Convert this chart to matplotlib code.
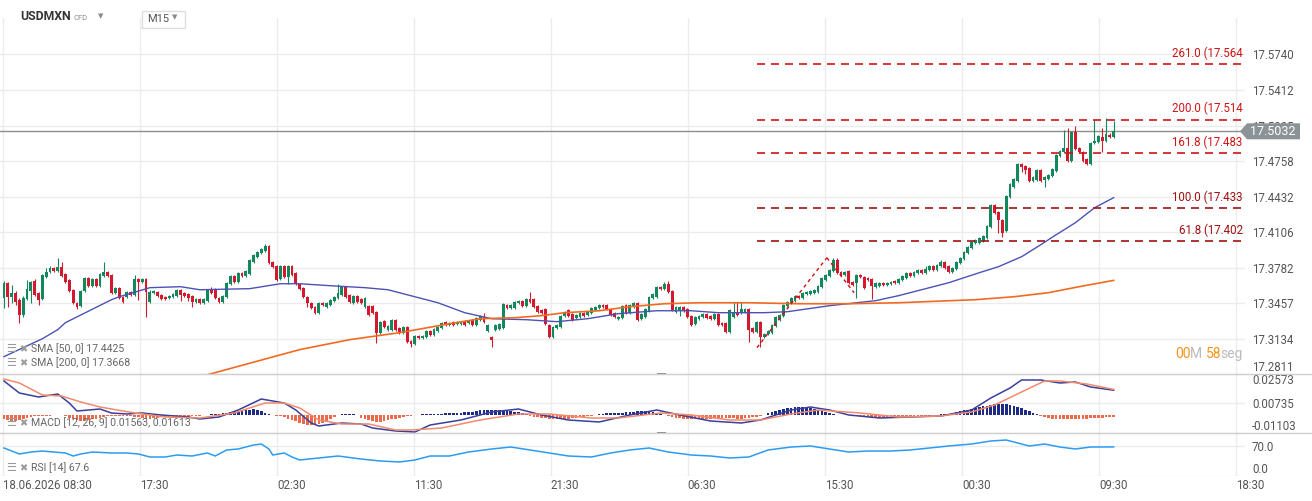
import numpy as np
import matplotlib
matplotlib.use('Agg')
import matplotlib.pyplot as plt
from matplotlib.patches import Polygon, Rectangle
from matplotlib.lines import Line2D

plt.rcParams['font.family'] = ['Roboto', 'DejaVu Sans']

W, H = 1312, 501

# ---------------- USDMXN M15 candles ----------------
opens = [
    17.3509, 17.3646, 17.3518, 17.3555, 17.3491, 17.3354, 17.3500, 17.3573, 17.3665, 17.3555,
    17.3500, 17.3701, 17.3747, 17.3784, 17.3756, 17.3793, 17.3729, 17.3674, 17.3582, 17.3463,
    17.3436, 17.3573, 17.3692, 17.3619, 17.3683, 17.3619, 17.3710, 17.3747, 17.3720, 17.3555,
    17.3601, 17.3518, 17.3518, 17.3564, 17.3537, 17.3683, 17.3656, 17.3683, 17.3473, 17.3555,
    17.3564, 17.3537, 17.3518, 17.3509, 17.3518, 17.3528, 17.3582, 17.3555, 17.3546, 17.3528,
    17.3473, 17.3500, 17.3463, 17.3482, 17.3582, 17.3582, 17.3509, 17.3473, 17.3518, 17.3637,
    17.3710, 17.3656, 17.3738, 17.3710, 17.3729, 17.3838, 17.3884, 17.3921, 17.3939, 17.3985,
    17.3838, 17.3802, 17.3683, 17.3802, 17.3701, 17.3802, 17.3738, 17.3637, 17.3601, 17.3518,
    17.3463, 17.3427, 17.3372, 17.3463, 17.3427, 17.3445, 17.3482, 17.3509, 17.3537, 17.3610,
    17.3537, 17.3463, 17.3528, 17.3500, 17.3427, 17.3436, 17.3436, 17.3381, 17.3189, 17.3299,
    17.3217, 17.3217, 17.3308, 17.3235, 17.3189, 17.3244, 17.3116, 17.3088, 17.3162, 17.3143,
    17.3153, 17.3207, 17.3171, 17.3207, 17.3235, 17.3290, 17.3262, 17.3290, 17.3271, 17.3271,
    17.3299, 17.3281, 17.3308, 17.3262, 17.3308, 17.3335, 17.3207, 17.3153, 17.3217, 17.3226,
    17.3235, 17.3445, 17.3418, 17.3418, 17.3463, 17.3482, 17.3436, 17.3500, 17.3500, 17.3436,
    17.3399, 17.3409, 17.3262, 17.3153, 17.3235, 17.3244, 17.3345, 17.3399, 17.3363, 17.3326,
    17.3335, 17.3372, 17.3354, 17.3372, 17.3399, 17.3418, 17.3445, 17.3445, 17.3409, 17.3372,
    17.3317, 17.3326, 17.3445, 17.3372, 17.3427, 17.3463, 17.3317, 17.3335, 17.3390, 17.3509,
    17.3518, 17.3610, 17.3592, 17.3637, 17.3573, 17.3381, 17.3390, 17.3427, 17.3409, 17.3345,
    17.3271, 17.3317, 17.3335, 17.3363, 17.3345, 17.3317, 17.3363, 17.3281, 17.3281, 17.3198,
    17.3335, 17.3381, 17.3372, 17.3381, 17.3409, 17.3235, 17.3198, 17.3290, 17.3153, 17.3180,
    17.3189, 17.3253, 17.3308, 17.3345, 17.3436, 17.3463, 17.3482, 17.3528, 17.3509, 17.3546,
    17.3546, 17.3555, 17.3564, 17.3610, 17.3674, 17.3710, 17.3756, 17.3857, 17.3747, 17.3720,
    17.3756, 17.3656, 17.3646, 17.3720, 17.3701, 17.3692, 17.3683, 17.3610, 17.3619, 17.3646,
    17.3628, 17.3637, 17.3665, 17.3646, 17.3674, 17.3692, 17.3738, 17.3710, 17.3738, 17.3765,
    17.3738, 17.3765, 17.3802, 17.3765, 17.3802, 17.3838, 17.3802, 17.3747, 17.3774, 17.3829,
    17.3866, 17.3921, 17.3966, 17.4012, 17.4012, 17.4030, 17.4058, 17.4158, 17.4360, 17.4296,
    17.4222, 17.4122, 17.4433, 17.4524, 17.4579, 17.4734, 17.4716, 17.4698, 17.4579, 17.4588,
    17.4680, 17.4588, 17.4597, 17.4625, 17.4670, 17.4808, 17.4844, 17.4881, 17.4762, 17.5027,
    17.4881, 17.4844, 17.4780, 17.4734, 17.4926, 17.4936, 17.4981, 17.4945, 17.5000, 17.4981,
]
highs = [
    17.3665, 17.3656, 17.3628, 17.3573, 17.3509, 17.3528, 17.3674, 17.3665, 17.3683, 17.3564,
    17.3729, 17.3784, 17.3802, 17.3793, 17.3875, 17.3838, 17.3738, 17.3683, 17.3592, 17.3473,
    17.3582, 17.3701, 17.3701, 17.3692, 17.3692, 17.3738, 17.3838, 17.3756, 17.3729, 17.3610,
    17.3610, 17.3528, 17.3573, 17.3573, 17.3720, 17.3692, 17.3692, 17.3692, 17.3582, 17.3582,
    17.3573, 17.3546, 17.3528, 17.3537, 17.3555, 17.3592, 17.3592, 17.3564, 17.3555, 17.3537,
    17.3509, 17.3509, 17.3509, 17.3592, 17.3610, 17.3601, 17.3518, 17.3537, 17.3656, 17.3720,
    17.3720, 17.3747, 17.3747, 17.3765, 17.3866, 17.3912, 17.3939, 17.3966, 17.4003, 17.3994,
    17.3848, 17.3811, 17.3811, 17.3811, 17.3811, 17.3811, 17.3747, 17.3646, 17.3610, 17.3528,
    17.3473, 17.3436, 17.3473, 17.3473, 17.3473, 17.3500, 17.3528, 17.3637, 17.3619, 17.3619,
    17.3546, 17.3537, 17.3537, 17.3509, 17.3518, 17.3445, 17.3445, 17.3390, 17.3299, 17.3308,
    17.3262, 17.3317, 17.3317, 17.3244, 17.3253, 17.3253, 17.3125, 17.3171, 17.3171, 17.3171,
    17.3217, 17.3217, 17.3235, 17.3253, 17.3290, 17.3299, 17.3290, 17.3299, 17.3299, 17.3299,
    17.3308, 17.3308, 17.3317, 17.3335, 17.3354, 17.3372, 17.3271, 17.3162, 17.3271, 17.3281,
    17.3463, 17.3454, 17.3454, 17.3482, 17.3491, 17.3491, 17.3509, 17.3564, 17.3509, 17.3445,
    17.3409, 17.3418, 17.3271, 17.3253, 17.3271, 17.3354, 17.3390, 17.3409, 17.3372, 17.3363,
    17.3381, 17.3381, 17.3390, 17.3427, 17.3436, 17.3454, 17.3454, 17.3454, 17.3418, 17.3381,
    17.3345, 17.3445, 17.3454, 17.3454, 17.3473, 17.3473, 17.3372, 17.3418, 17.3528, 17.3555,
    17.3619, 17.3619, 17.3656, 17.3665, 17.3582, 17.3436, 17.3436, 17.3436, 17.3418, 17.3354,
    17.3345, 17.3354, 17.3372, 17.3372, 17.3354, 17.3372, 17.3372, 17.3290, 17.3290, 17.3409,
    17.3473, 17.3473, 17.3473, 17.3418, 17.3418, 17.3244, 17.3299, 17.3299, 17.3189, 17.3217,
    17.3271, 17.3345, 17.3363, 17.3454, 17.3482, 17.3518, 17.3537, 17.3537, 17.3564, 17.3573,
    17.3582, 17.3592, 17.3628, 17.3701, 17.3729, 17.3774, 17.3875, 17.3875, 17.3756, 17.3756,
    17.3765, 17.3665, 17.3729, 17.3729, 17.3710, 17.3701, 17.3692, 17.3656, 17.3656, 17.3656,
    17.3656, 17.3665, 17.3674, 17.3692, 17.3720, 17.3747, 17.3747, 17.3756, 17.3774, 17.3774,
    17.3802, 17.3811, 17.3811, 17.3820, 17.3857, 17.3848, 17.3811, 17.3793, 17.3848, 17.3884,
    17.3939, 17.3985, 17.4030, 17.4049, 17.4067, 17.4085, 17.4177, 17.4369, 17.4369, 17.4305,
    17.4231, 17.4451, 17.4561, 17.4606, 17.4744, 17.4744, 17.4725, 17.4707, 17.4625, 17.4689,
    17.4689, 17.4625, 17.4643, 17.4698, 17.4826, 17.4862, 17.5045, 17.5064, 17.5036, 17.5082,
    17.4890, 17.4853, 17.4789, 17.4936, 17.5137, 17.5000, 17.5064, 17.5155, 17.5018, 17.5128,
]
lows = [
    17.3418, 17.3427, 17.3463, 17.3445, 17.3281, 17.3335, 17.3491, 17.3463, 17.3528, 17.3445,
    17.3491, 17.3692, 17.3738, 17.3747, 17.3747, 17.3701, 17.3646, 17.3564, 17.3454, 17.3409,
    17.3427, 17.3564, 17.3610, 17.3610, 17.3610, 17.3610, 17.3701, 17.3701, 17.3546, 17.3546,
    17.3500, 17.3463, 17.3509, 17.3528, 17.3528, 17.3491, 17.3646, 17.3335, 17.3463, 17.3546,
    17.3518, 17.3491, 17.3491, 17.3500, 17.3509, 17.3518, 17.3482, 17.3518, 17.3482, 17.3427,
    17.3463, 17.3454, 17.3454, 17.3473, 17.3546, 17.3500, 17.3463, 17.3463, 17.3509, 17.3628,
    17.3646, 17.3646, 17.3701, 17.3701, 17.3720, 17.3829, 17.3875, 17.3912, 17.3930, 17.3820,
    17.3784, 17.3665, 17.3674, 17.3692, 17.3637, 17.3710, 17.3628, 17.3582, 17.3509, 17.3427,
    17.3409, 17.3363, 17.3363, 17.3436, 17.3418, 17.3436, 17.3473, 17.3500, 17.3528, 17.3509,
    17.3463, 17.3454, 17.3463, 17.3454, 17.3418, 17.3345, 17.3363, 17.3098, 17.3180, 17.3235,
    17.3207, 17.3207, 17.3207, 17.3180, 17.3180, 17.3098, 17.3061, 17.3079, 17.3134, 17.3134,
    17.3143, 17.3162, 17.3162, 17.3198, 17.3226, 17.3253, 17.3253, 17.3253, 17.3262, 17.3262,
    17.3253, 17.3271, 17.3253, 17.3253, 17.3299, 17.3281, 17.3198, 17.3061, 17.3207, 17.3217,
    17.3226, 17.3409, 17.3409, 17.3409, 17.3454, 17.3427, 17.3427, 17.3463, 17.3418, 17.3372,
    17.3363, 17.3262, 17.3143, 17.3143, 17.3226, 17.3235, 17.3335, 17.3335, 17.3299, 17.3317,
    17.3326, 17.3335, 17.3345, 17.3363, 17.3390, 17.3409, 17.3418, 17.3399, 17.3345, 17.3326,
    17.3308, 17.3317, 17.3363, 17.3363, 17.3418, 17.3299, 17.3308, 17.3326, 17.3381, 17.3500,
    17.3509, 17.3582, 17.3582, 17.3555, 17.3390, 17.3372, 17.3345, 17.3381, 17.3326, 17.3253,
    17.3262, 17.3308, 17.3326, 17.3317, 17.3308, 17.3308, 17.3253, 17.3253, 17.3189, 17.3189,
    17.3326, 17.3345, 17.3363, 17.3372, 17.3107, 17.3189, 17.3189, 17.3061, 17.3143, 17.3171,
    17.3180, 17.3244, 17.3299, 17.3335, 17.3427, 17.3454, 17.3473, 17.3500, 17.3500, 17.3537,
    17.3537, 17.3546, 17.3555, 17.3601, 17.3665, 17.3701, 17.3747, 17.3729, 17.3710, 17.3710,
    17.3637, 17.3619, 17.3509, 17.3692, 17.3592, 17.3665, 17.3500, 17.3601, 17.3610, 17.3619,
    17.3619, 17.3628, 17.3637, 17.3637, 17.3665, 17.3683, 17.3701, 17.3701, 17.3729, 17.3729,
    17.3729, 17.3756, 17.3756, 17.3756, 17.3793, 17.3774, 17.3738, 17.3738, 17.3765, 17.3820,
    17.3857, 17.3912, 17.3957, 17.4003, 17.4003, 17.4021, 17.4049, 17.4149, 17.4277, 17.4103,
    17.4067, 17.4113, 17.4424, 17.4515, 17.4570, 17.4661, 17.4643, 17.4570, 17.4570, 17.4579,
    17.4570, 17.4524, 17.4588, 17.4616, 17.4661, 17.4798, 17.4835, 17.4753, 17.4753, 17.4862,
    17.4835, 17.4753, 17.4725, 17.4725, 17.4917, 17.4926, 17.4844, 17.4936, 17.4972, 17.4972,
]
closes = [
    17.3646, 17.3518, 17.3555, 17.3473, 17.3354, 17.3509, 17.3592, 17.3656, 17.3537, 17.3491,
    17.3720, 17.3747, 17.3784, 17.3756, 17.3793, 17.3710, 17.3656, 17.3573, 17.3463, 17.3427,
    17.3573, 17.3692, 17.3619, 17.3683, 17.3619, 17.3729, 17.3747, 17.3710, 17.3555, 17.3601,
    17.3509, 17.3473, 17.3564, 17.3537, 17.3683, 17.3656, 17.3683, 17.3564, 17.3564, 17.3573,
    17.3528, 17.3500, 17.3500, 17.3528, 17.3546, 17.3582, 17.3537, 17.3528, 17.3509, 17.3473,
    17.3500, 17.3463, 17.3500, 17.3582, 17.3555, 17.3509, 17.3473, 17.3528, 17.3646, 17.3710,
    17.3656, 17.3738, 17.3710, 17.3756, 17.3857, 17.3902, 17.3930, 17.3957, 17.3985, 17.3829,
    17.3793, 17.3674, 17.3802, 17.3701, 17.3802, 17.3720, 17.3637, 17.3592, 17.3518, 17.3463,
    17.3418, 17.3372, 17.3463, 17.3445, 17.3463, 17.3491, 17.3518, 17.3555, 17.3610, 17.3518,
    17.3473, 17.3528, 17.3473, 17.3463, 17.3509, 17.3354, 17.3372, 17.3189, 17.3290, 17.3244,
    17.3253, 17.3308, 17.3217, 17.3189, 17.3244, 17.3107, 17.3088, 17.3162, 17.3143, 17.3162,
    17.3207, 17.3171, 17.3226, 17.3244, 17.3281, 17.3262, 17.3281, 17.3262, 17.3290, 17.3290,
    17.3262, 17.3299, 17.3262, 17.3326, 17.3345, 17.3290, 17.3262, 17.3125, 17.3262, 17.3271,
    17.3454, 17.3418, 17.3445, 17.3473, 17.3482, 17.3436, 17.3500, 17.3473, 17.3427, 17.3381,
    17.3372, 17.3271, 17.3153, 17.3244, 17.3262, 17.3345, 17.3381, 17.3345, 17.3308, 17.3354,
    17.3372, 17.3345, 17.3381, 17.3418, 17.3427, 17.3445, 17.3427, 17.3409, 17.3354, 17.3335,
    17.3335, 17.3436, 17.3372, 17.3445, 17.3463, 17.3308, 17.3363, 17.3409, 17.3518, 17.3546,
    17.3610, 17.3592, 17.3637, 17.3564, 17.3399, 17.3427, 17.3427, 17.3390, 17.3335, 17.3262,
    17.3335, 17.3345, 17.3363, 17.3326, 17.3317, 17.3363, 17.3262, 17.3262, 17.3198, 17.3399,
    17.3372, 17.3354, 17.3409, 17.3409, 17.3217, 17.3198, 17.3290, 17.3153, 17.3180, 17.3207,
    17.3262, 17.3335, 17.3354, 17.3445, 17.3473, 17.3509, 17.3528, 17.3509, 17.3555, 17.3564,
    17.3573, 17.3582, 17.3619, 17.3692, 17.3720, 17.3765, 17.3857, 17.3738, 17.3720, 17.3747,
    17.3646, 17.3628, 17.3720, 17.3701, 17.3601, 17.3674, 17.3619, 17.3646, 17.3646, 17.3628,
    17.3646, 17.3656, 17.3646, 17.3683, 17.3710, 17.3738, 17.3710, 17.3747, 17.3765, 17.3738,
    17.3774, 17.3802, 17.3765, 17.3811, 17.3838, 17.3784, 17.3747, 17.3784, 17.3838, 17.3875,
    17.3930, 17.3976, 17.4021, 17.4039, 17.4058, 17.4076, 17.4167, 17.4360, 17.4286, 17.4222,
    17.4103, 17.4442, 17.4552, 17.4597, 17.4734, 17.4707, 17.4680, 17.4579, 17.4616, 17.4680,
    17.4579, 17.4616, 17.4634, 17.4689, 17.4817, 17.4853, 17.4881, 17.4762, 17.5027, 17.4872,
    17.4844, 17.4762, 17.4734, 17.4926, 17.4945, 17.4990, 17.4945, 17.5009, 17.4981, 17.5032,
]

# ---------------- moving averages (sampled at candle index) ----------------
sma50_idx = [0, 10, 14, 16, 28, 30, 38, 46, 51, 64, 72, 77, 85, 94, 100, 107, 113, 120, 127,
             136, 144, 152, 160, 170, 179, 186, 198, 204, 215, 227, 233, 246, 254, 259, 265,
             270, 274, 279, 284, 289]
sma50_val = [17.2970, 17.3134, 17.3217, 17.3281, 17.3491, 17.3518, 17.3601, 17.3610, 17.3582,
             17.3592, 17.3637, 17.3637, 17.3619, 17.3601, 17.3582, 17.3518, 17.3463, 17.3372,
             17.3317, 17.3308, 17.3290, 17.3317, 17.3363, 17.3390, 17.3390, 17.3372, 17.3372,
             17.3381, 17.3436, 17.3482, 17.3528, 17.3646, 17.3738, 17.3793, 17.3884, 17.3994,
             17.4085, 17.4195, 17.4332, 17.4425]

sma200_idx = [45, 54, 77, 90, 103, 116, 124, 133, 140, 146, 155, 163, 172, 181, 194, 207,
              220, 233, 253, 263, 272, 280, 289]
sma200_val = [17.2728, 17.2814, 17.3034, 17.3125, 17.3189, 17.3271, 17.3317, 17.3326, 17.3345,
              17.3372, 17.3390, 17.3427, 17.3454, 17.3463, 17.3463, 17.3454, 17.3454, 17.3463,
              17.3491, 17.3518, 17.3555, 17.3610, 17.3668]

# ---------------- fibonacci extension ----------------
fib_anchor_idx = [196.1, 214.3, 221.4]
fib_anchor_val = [17.3052, 17.3875, 17.3555]
fib_levels = [261.0, 200.0, 161.8, 100.0, 61.8]
fib_prices = [17.5646, 17.5140, 17.4830, 17.4330, 17.4028]
# labels as they show, cut off at the plot edge
fib_texts = ['261.0 (17.564', '200.0 (17.514', '161.8 (17.483', '100.0 (17.433', '61.8 (17.402']

# ---------------- MACD [12, 26, 9] ----------------
macd_idx = [0, 4, 9, 14, 17, 19, 25, 28, 32, 36, 41, 48, 51, 56, 61, 67, 73, 76, 80, 82, 88,
            93, 96, 102, 107, 111, 119, 127, 134, 140, 147, 155, 163, 170, 176, 184, 192,
            197, 205, 210, 215, 220, 228, 236, 244, 252, 257, 262, 265, 270, 275, 279, 283, 289]
macd_val = [0.02137, 0.01389, 0.01140, 0.01327, 0.00766, 0.00268, 0.00392, 0.00143, 0.00081,
            0.00143, 0.00019, -0.00106, -0.00231, -0.00106, 0.00330, 0.01015, 0.00766, 0.00330,
            -0.00480, -0.00667, -0.00480, -0.00542, -0.00792, -0.00978, -0.01041, -0.00604,
            -0.00293, 0.00206, 0.00392, 0.00019, -0.00293, -0.00417, 0.00019, 0.00330, 0.00019,
            -0.00355, -0.00480, -0.00293, 0.00330, 0.00517, 0.00330, 0.00019, -0.00168,
            -0.00106, -0.00044, 0.00330, 0.01077, 0.01700, 0.02199, 0.02199, 0.02012, 0.02075,
            0.01763, 0.01563]
signal_idx = [0, 4, 10, 15, 20, 25, 34, 42, 51, 60, 68, 73, 77, 82, 88, 95, 102, 106, 114,
              124, 134, 142, 153, 160, 171, 179, 189, 197, 205, 212, 223, 233, 244, 252, 258,
              265, 271, 275, 282, 289]
signal_val = [0.02261, 0.02012, 0.01265, 0.01202, 0.00829, 0.00517, 0.00143, -0.00106,
              -0.00168, 0.00143, 0.00766, 0.00766, 0.00455, -0.00293, -0.00542, -0.00542,
              -0.00916, -0.00916, -0.00792, -0.00293, 0.00081, 0.00081, -0.00168, -0.00168,
              0.00143, 0.00019, -0.00293, -0.00293, 0.00081, 0.00330, 0.00143, -0.00106,
              -0.00044, 0.00206, 0.00642, 0.01452, 0.02137, 0.02137, 0.01950, 0.01613]
macd_hist = [
    -0.0025, -0.003, -0.0035, -0.0035, -0.003, -0.0025, -0.0015, -0.0008,
    -0.0003, -0.0003, -0.0002, -0.0002, -0.0002,
    0.0003, 0.0003, 0.0003,
    -0.0005,
    -0.0015, -0.0025, -0.003, -0.0033, -0.0033, -0.003, -0.0025, -0.002, -0.0015, -0.001,
    -0.0005, -0.0004, -0.0003, -0.0003, -0.0003, -0.0004, -0.0006, -0.0008,
    -0.001, -0.0015, -0.002, -0.002, -0.0018, -0.0015, -0.0012, -0.001, -0.0008, -0.0008,
    -0.0008, -0.001, -0.001, -0.0008, -0.0006, -0.0004, -0.0002, 0.0002,
    0.0004, 0.0005, 0.0006, 0.0008,
    0.0012, 0.0016, 0.002, 0.0024, 0.0028, 0.003, 0.0033, 0.0036, 0.0038, 0.0035, 0.0025,
    0.0012, 0.0005, 0.0002, -0.0003, -0.0006,
    -0.0012, -0.0022, -0.003, -0.0038, -0.0045, -0.0052, -0.0058, -0.006, -0.0058, -0.0052,
    -0.0045, -0.0035, -0.0025,
    -0.001, 0.0002, 0.0005, 0.0006, 0.0006, 0.0005, 0.0002,
    -0.0015, -0.0025, -0.0032, -0.0038, -0.004, -0.004, -0.0035, -0.003, -0.0025, -0.002,
    -0.0015, -0.001, -0.0006, -0.0003, 0.0002, 0.0004, 0.0005, 0.0006,
    0.0006, 0.0008, 0.0008, 0.001, 0.0012, 0.0012, 0.0014, 0.0014, 0.0016, 0.0018, 0.002,
    0.0022, 0.0026, 0.003, 0.0032, 0.0034, 0.0035, 0.0034, 0.0032, 0.003, 0.0028, 0.0026,
    0.0022, 0.0018, 0.0012, 0.0006,
    -0.0004, -0.0008, -0.0012, -0.0015, -0.0018, -0.002, -0.0022, -0.0024, -0.0024, -0.0022,
    -0.002, -0.0018, -0.0015, -0.0012, -0.0008, -0.0005, -0.0002, 0.0002,
    0.0006, 0.001, 0.0012, 0.0014, 0.0015, 0.0015, 0.0016, 0.0018, 0.002, 0.0022, 0.0025,
    0.0028, 0.0028, 0.0025, 0.002, 0.0014, 0.0008, 0.0002,
    -0.0006, -0.001, -0.0014, -0.0018, -0.002, -0.0022, -0.0024, -0.0025, -0.0025, -0.0024,
    -0.0022, -0.002, -0.0018, -0.0016, -0.0015, -0.0015, -0.0016, -0.0018, -0.002, -0.002,
    -0.0018, -0.0015, -0.0012, -0.0008, -0.0004, 0.0002,
    0.0012, 0.002, 0.0028, 0.0034, 0.004, 0.0045, 0.0048, 0.005, 0.0052, 0.005, 0.0048,
    0.0045, 0.004, 0.0035, 0.0028, 0.002, 0.0012, 0.0005,
    0.0002, 0.0003, 0.0004, 0.0003, 0.0002, -0.0003, -0.0006, -0.001, -0.0012,
    -0.0014, -0.0016, -0.0016, -0.0015, -0.0014, -0.0012, -0.001, -0.0008, -0.0006, -0.0006,
    -0.0005, -0.0004, -0.0003, -0.0003, -0.0002, -0.0002, 0.0002, 0.0004, 0.0006, 0.0008,
    0.001, 0.0015, 0.002, 0.0025, 0.003, 0.0035, 0.004, 0.0045, 0.005, 0.0055, 0.006, 0.0065,
    0.007, 0.0072, 0.0072, 0.007, 0.0066, 0.006, 0.0052, 0.0044, 0.0035, 0.0025, 0.0015, 0.0006,
    -0.0006, -0.0012, -0.0016, -0.002, -0.0022, -0.0024, -0.0025, -0.0026, -0.0026, -0.0025,
    -0.0024, -0.0022, -0.002, -0.0018, -0.0016, -0.0015, -0.0014, -0.0012, -0.001, -0.0009,
]

# ---------------- RSI [14] ----------------
rsi_idx = [0, 2, 4, 7, 10, 16, 18, 20, 23, 28, 32, 35, 38, 42, 45, 49, 53, 55, 58, 61, 65, 67,
           69, 70, 73, 75, 77, 82, 87, 93, 98, 103, 107, 111, 116, 121, 127, 132, 137, 142,
           147, 153, 158, 163, 168, 173, 179, 184, 189, 194, 199, 205, 210, 215, 220, 225,
           231, 236, 241, 246, 252, 257, 261, 263, 267, 271, 275, 279, 283, 289]
rsi_val = [65.1, 58.1, 51.2, 55.8, 58.1, 53.5, 46.5, 51.2, 55.8, 53.5, 53.5, 51.2, 44.2, 44.2,
           48.8, 46.5, 53.5, 46.5, 60.5, 62.8, 72.1, 74.4, 62.8, 48.8, 53.5, 44.2, 37.2, 41.9,
           46.5, 39.5, 34.9, 32.6, 37.2, 46.5, 46.5, 55.8, 62.8, 67.4, 60.5, 53.5, 46.5, 44.2,
           53.5, 60.5, 65.1, 55.8, 48.8, 46.5, 41.9, 44.2, 60.5, 67.4, 69.8, 62.8, 55.8, 58.1,
           58.1, 60.5, 65.1, 69.8, 74.4, 81.4, 83.7, 79.1, 69.8, 74.4, 67.4, 62.8, 67.4, 67.6]

# ---------------- axis labels ----------------
price_ticks = [17.2811, 17.3134, 17.3457, 17.3782, 17.4106, 17.4432, 17.4758, 17.5085, 17.5412, 17.5740]
time_pos = [-0.26, 35.4, 71.1, 106.8, 142.4, 178.1, 213.8, 249.5, 285.2, 320.8]
time_labels = ['18.06.2026 08:30', '17:30', '02:30', '11:30', '21:30', '06:30',
               '15:30', '00:30', '09:30', '18:30']


def fx(px):
    return px / W


def fy(py):
    return 1 - py / H


fig = plt.figure(figsize=(W / 100, H / 100), dpi=100)
fig.patch.set_facecolor('white')

ax = fig.add_axes([0, fy(374), fx(1245), (374 - 18) / H])
macd_ax = fig.add_axes([0, fy(433), fx(1245), (433 - 374) / H], sharex=ax)
rsi_ax = fig.add_axes([0, fy(476), fx(1245), (476 - 433) / H], sharex=ax)

grid_c = '#ececec'
lab_c = '#555555'
for a in (ax, macd_ax, rsi_ax):
    for s in a.spines.values():
        s.set_visible(False)
    a.set_facecolor('none')
    a.yaxis.tick_right()
    a.tick_params(axis='y', length=0, pad=5, labelsize=8.3, labelcolor=lab_c)
    a.tick_params(axis='x', length=0)
    a.grid(True, color=grid_c, lw=1)
    a.set_axisbelow(True)
    a.set_xticks(time_pos)

# candles
o = np.array(opens)
c = np.array(closes)
h = np.array(highs)
l = np.array(lows)
idx = np.arange(len(c))
cols = np.where(c >= o, '#12885c', '#d2192e')
ax.vlines(idx, l, h, colors=cols, lw=0.8, zorder=3)
ax.bar(idx, np.maximum(np.abs(c - o), 0.00015), bottom=np.minimum(o, c), width=0.74,
       color=cols, lw=0, zorder=4)

ax.plot(sma50_idx, sma50_val, color='#4c52b4', lw=1.0, zorder=5)
ax.plot(sma200_idx, sma200_val, color='#f26a21', lw=1.2, zorder=5)

# current price line
ax.axhline(closes[-1], color='#8e8e8e', lw=1, zorder=2)

# fibonacci extension
ax.plot(fib_anchor_idx[:2], fib_anchor_val[:2], color='#d01010', lw=1, dashes=(2.5, 2.5), zorder=6)
ax.plot(fib_anchor_idx[1:], fib_anchor_val[1:], color='#d01010', lw=1, dashes=(2.5, 2.5), zorder=6)
for lvl, pr, txt in zip(fib_levels, fib_prices, fib_texts):
    colr = '#cf1414' if lvl > 150 else '#a01010'
    ax.plot([fib_anchor_idx[0], 330], [pr, pr], color=colr, lw=1.2, dashes=(4.8, 3.6), zorder=6)
    ax.annotate(txt, (322.6, pr), xytext=(0, 3), textcoords='offset points',
                ha='right', va='bottom', fontsize=8.3, color=colr, zorder=7)

ax.set_xlim(-1.04, 323.2)
ax.set_ylim(17.2814, 17.6069)
ax.set_yticks(price_ticks)
ax.set_yticklabels([f'{p:.4f}' for p in price_ticks])
ax.get_yticklabels()[0].set_va('bottom')
ax.tick_params(axis='x', labelbottom=False)

# MACD panel
macd_ax.bar(np.arange(len(macd_hist)), macd_hist, width=0.7,
            color=['#1d2a86' if v > 0 else '#ec6a4c' for v in macd_hist], lw=0, zorder=3)
macd_ax.plot(macd_idx, macd_val, color='#3a3f9c', lw=1.1, zorder=4)
macd_ax.plot(signal_idx, signal_val, color='#f28a6c', lw=1.1, zorder=4)
macd_ticks = [-0.01103, 0.00735, 0.02573]
macd_ax.set_ylim(-0.01103, 0.02573)
macd_ax.set_yticks(macd_ticks)
macd_ax.set_yticklabels([f'{v:.5f}' for v in macd_ticks])
macd_ax.get_yticklabels()[0].set_va('bottom')
macd_ax.get_yticklabels()[2].set_va('top')
macd_ax.tick_params(axis='x', labelbottom=False)

# RSI panel
rsi_ax.plot(rsi_idx, rsi_val, color='#2b9cf2', lw=1.1, zorder=4)
rsi_ax.set_ylim(0, 100)
rsi_ax.set_yticks([0, 70])
rsi_ax.set_yticklabels(['0.0', '70.0'])
rsi_ax.get_yticklabels()[0].set_va('bottom')
rsi_ax.set_xticklabels(time_labels)
rsi_ax.tick_params(axis='x', labelsize=8.3, labelcolor=lab_c, pad=2)
for lb in rsi_ax.get_xticklabels():
    lb.set_ha('left')

# panel separators and handles
for yy in (374, 433):
    fig.add_artist(Line2D([0, 1], [fy(yy), fy(yy)], color='#cfcfcf', lw=1))
    fig.add_artist(Rectangle((fx(657), fy(yy) - 1 / H), fx(9), 2 / H, color='#8a8a8a', lw=0))

# price label box
fig.canvas.draw()
py = H - ax.transData.transform((0, closes[-1]))[1]
box = [(1240, py), (1247, py - 8), (1300, py - 8), (1300, py + 8), (1247, py + 8)]
fig.add_artist(Polygon([(fx(a), fy(b)) for a, b in box], closed=True, color='#8b9396', lw=0))
fig.text(fx(1273), fy(py), f'{closes[-1]:.4f}', color='white', fontsize=9,
         ha='center', va='center')

# header
fig.text(fx(20), fy(17), 'USDMXN', fontsize=8.8, fontweight='bold', color='#333333', va='center')
fig.text(fx(74), fy(18), 'CFD', fontsize=5.5, color='#8a8a8a', va='center')
fig.text(fx(98), fy(17), '▼', fontsize=5, color='#8a8a8a', va='center')
fig.add_artist(Rectangle((fx(142), fy(28)), fx(43), 17 / H, fill=False, ec='#dddddd', lw=1))
fig.text(fx(147), fy(19), 'M15', fontsize=8, color='#555555', va='center')
fig.text(fx(172), fy(18), '▼', fontsize=5, color='#8a8a8a', va='center')

# legends
legends = [(349, 'SMA [50, 0] 17.4425'), (363, 'SMA [200, 0] 17.3668'),
           (423, f'MACD [12, 26, 9] {macd_val[-1]:.5f}, {signal_val[-1]:.5f}'),
           (468, f'RSI [14] {rsi_val[-1]:.1f}')]
for yy, txt in legends:
    fig.text(fx(6), fy(yy), '☰', fontsize=8, color='#9a9a9a', va='center',
             family=['DejaVu Sans'])
    fig.text(fx(19), fy(yy), '✖', fontsize=7, color='#9a9a9a', va='center',
             family=['DejaVu Sans'])
    fig.text(fx(31), fy(yy), txt, fontsize=7.6, color='#666666', va='center')

# countdown
for xp, txt, colr in [(1175, '00', '#f7941d'), (1190, 'M', '#bbbbbb'),
                      (1206, '58', '#f7941d'), (1220, 'seg', '#bbbbbb')]:
    fig.text(fx(xp), fy(354), txt, fontsize=10, color=colr, va='center')

fig.savefig('out.png', dpi=100)
